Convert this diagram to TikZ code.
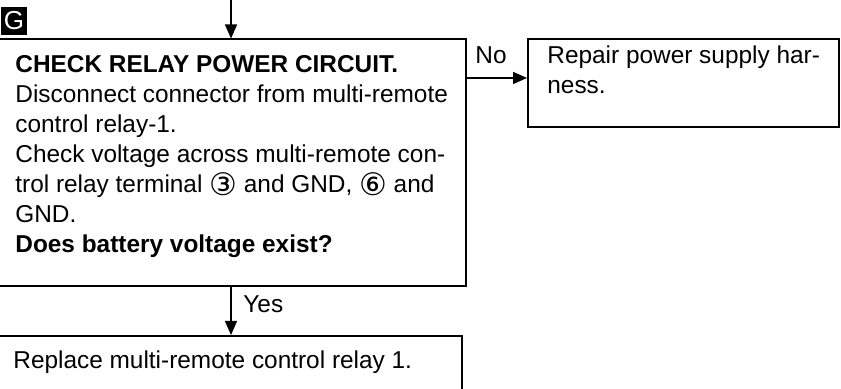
\documentclass[tikz,border=0pt]{standalone}
\usepackage{fontspec}
\setmainfont{Liberation Sans}
\newfontfamily\circfont{DejaVu Sans}
\usetikzlibrary{arrows.meta,positioning,calc}
\tikzset{
  box/.style={draw, line width=0.8pt, inner sep=0pt, anchor=north west},
  txt/.style={font=\fontsize{12.2pt}{15pt}\selectfont, align=left, inner sep=0pt, anchor=north west},
  flow/.style={-{Triangle[length=7pt,width=6pt]}, line width=0.7pt},
  tag/.style={fill=black, text=white, font=\fontsize{13pt}{13pt}\selectfont, minimum width=13pt, minimum height=14pt, inner sep=0pt},
}
\newcommand{\term}[1]{\raisebox{-1.6pt}{\circfont\fontsize{15.5pt}{15pt}\selectfont #1}}
\begin{document}
\begin{tikzpicture}[x=0.5pt,y=-0.5pt]
  \useasboundingbox (0,0) rectangle (841,389);
  \clip (0,0) rectangle (841,389);
  % boxes
  \node[box, minimum width=234pt, minimum height=123.5pt] (chk) at (-3,38.5) {};
  \node[box, minimum width=155.5pt, minimum height=44pt] (rep) at (527,38.5) {};
  \node[box, minimum width=232pt, minimum height=45pt] (fix) at (-3,335) {};
  \node[tag] (g) at (14,21) {G};
  % texts
  \node[txt] (chk-t) at (15,55) {\textbf{CHECK RELAY POWER CIRCUIT.}\\
    Disconnect connector from multi-remote\\
    control relay-1.\\
    Check voltage across multi-remote con-\\
    trol relay terminal \term{③} and GND, \term{⑥} and\\
    GND.\\
    \textbf{Does battery voltage exist?}};
  \node[txt] (rep-t) at (547,45) {Repair power supply har-\\ness.};
  \node[txt] (fix-t) at (13,350) {Replace multi-remote control relay 1.};
  % connectors
  \coordinate (top) at (231,0);
  \coordinate (noy) at (0,78);
  \draw[flow] (top) -- (top |- chk.north);
  \draw[flow] (chk.east |- noy) -- (rep.west |- noy);
  \draw[flow] (top |- chk.south) -- (top |- fix.north);
  \node[txt] (no) at (475,46) {No};
  \node[txt] (yes) at (243,295) {Yes};
\end{tikzpicture}
\end{document}
